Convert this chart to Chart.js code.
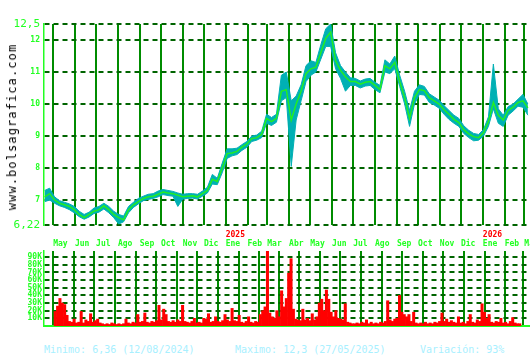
<!DOCTYPE html>
<html>
<head>
<meta charset="utf-8">
<script src="https://cdn.jsdelivr.net/npm/chart.js@4"></script>
<style>
  body { margin: 0; background: #fff; }
  #wrap { position: relative; width: 530px; height: 360px; overflow: hidden; }
  #price { position: absolute; left: 0; top: 0; }
  #vol { position: absolute; left: 0; top: 250px; }
  #site {
    position: absolute; left: 12px; top: 127px;
    transform: translate(-50%, -50%) rotate(-90deg);
    font: 12px "DejaVu Sans Mono", monospace; letter-spacing: 1.1px;
    color: #000; white-space: nowrap;
  }
  .stat {
    position: absolute; top: 344px;
    font: 10px "DejaVu Sans Mono", monospace; color: #a8f0ff; white-space: nowrap;
  }
</style>
</head>
<body>
<div id="wrap">
  <canvas id="price" width="530" height="250"></canvas>
  <canvas id="vol" width="530" height="78"></canvas>
  <div id="site">www.bolsagrafica.com</div>
  <div class="stat" style="left:44px">Minimo: 6,36 (12/08/2024)</div>
  <div class="stat" style="left:235px">Maximo: 12,3 (27/05/2025)</div>
  <div class="stat" style="left:420px">Variación: 93%</div>
</div>
<script>
// weekly quotes, first week starting here
const firstWeek = '2024-04-19';
const close = [7.1,7.2,7.0,6.9,6.85,6.8,6.7,6.55,6.45,6.55,6.65,6.7,6.82,6.7,6.55,6.45,6.38,6.7,6.85,6.95,
  7.05,7.1,7.12,7.18,7.25,7.22,7.2,7.15,7.1,7.12,7.13,7.1,7.2,7.3,7.65,7.58,8.0,8.45,8.47,8.52,
  8.65,8.75,8.92,8.95,9.05,9.55,9.45,9.55,10.4,10.45,9.5,10.0,10.4,10.95,11.1,11.15,11.6,12.05,12.25,11.35,
  11.05,10.85,10.7,10.7,10.62,10.68,10.7,10.58,10.45,11.2,11.1,11.3,10.7,10.2,9.55,10.2,10.45,10.42,10.2,10.1,
  10.0,9.82,9.68,9.52,9.42,9.2,9.07,8.98,8.95,9.1,9.45,10.05,9.65,9.5,9.8,9.9,10.05,10.1,9.88];
const high = [7.3,7.37,7.1,6.98,6.93,6.88,6.8,6.65,6.55,6.62,6.75,6.8,6.9,6.8,6.65,6.55,6.5,6.8,6.93,7.05,
  7.12,7.18,7.2,7.28,7.33,7.3,7.27,7.22,7.18,7.2,7.2,7.18,7.28,7.4,7.8,7.68,8.15,8.6,8.6,8.62,
  8.73,8.83,9.0,9.03,9.15,9.68,9.58,9.68,10.9,11.0,10.1,10.25,10.6,11.2,11.35,11.3,11.85,12.35,12.5,11.6,
  11.2,11.0,10.82,10.8,10.72,10.78,10.8,10.68,10.58,11.38,11.25,11.5,10.9,10.4,9.8,10.4,10.6,10.55,10.32,10.22,
  10.12,9.95,9.8,9.65,9.55,9.32,9.18,9.08,9.05,9.2,9.6,11.25,9.85,9.65,9.92,10.0,10.15,10.3,10.0];
const low = [6.95,7.0,6.9,6.82,6.77,6.7,6.6,6.48,6.4,6.47,6.58,6.62,6.72,6.6,6.45,6.25,6.32,6.6,6.77,6.88,
  6.98,7.02,7.05,7.1,7.17,7.14,7.12,6.8,7.03,7.05,7.06,7.03,7.12,7.22,7.5,7.48,7.85,8.3,8.38,8.42,
  8.55,8.65,8.83,8.87,8.95,9.4,9.33,9.43,10.1,10.2,8.05,9.5,10.1,10.7,10.9,11.0,11.4,11.8,11.8,11.1,
  10.8,10.4,10.58,10.58,10.5,10.56,10.58,10.45,10.35,11.0,10.95,11.1,10.55,10.0,9.3,10.0,10.3,10.28,10.05,9.97,
  9.87,9.68,9.52,9.4,9.3,9.08,8.95,8.85,8.87,9.0,9.3,9.85,9.4,9.3,9.65,9.78,9.93,9.9,9.65];
// volume in thousands, two values per week
const volumeK = [19,26,36,30,28,14,6,5,9,4,5,19,4,8,6,16,5,7,9,4,
  3,2,3,2,4,3,2,3,2,3,9,4,3,5,4,15,5,6,17,5,
  4,6,5,7,27,8,22,15,6,5,7,5,8,6,27,6,5,4,6,10,
  4,5,4,10,9,16,5,6,12,6,5,7,15,8,6,23,7,6,14,5,
  4,6,12,5,4,6,5,15,20,25,99,17,12,10,20,12,46,25,36,69,
  88,22,9,8,7,22,8,10,7,16,8,12,30,35,20,47,35,18,12,20,
  10,9,8,29,5,4,3,3,4,3,5,4,8,3,5,3,4,3,5,4,
  6,33,8,6,9,10,40,18,15,12,15,6,18,4,3,4,3,5,3,4,
  3,5,4,6,17,6,9,5,7,5,4,12,4,5,3,6,15,5,4,8,
  6,29,18,10,15,5,4,6,5,10,4,5,3,6,11,4,3,3];

const monthStarts = ['2024-05-01','2024-06-01','2024-07-01','2024-08-01','2024-09-01','2024-10-01','2024-11-01','2024-12-01',
  '2025-01-01','2025-02-01','2025-03-01','2025-04-01','2025-05-01','2025-06-01','2025-07-01','2025-08-01','2025-09-01',
  '2025-10-01','2025-11-01','2025-12-01','2026-01-01','2026-02-01','2026-03-01'];
const monthLabels = ['May','Jun','Jul','Ago','Sep','Oct','Nov','Dic','Ene','Feb','Mar','Abr','May','Jun','Jul','Ago','Sep',
  'Oct','Nov','Dic','Ene','Feb','Mar'];
const yearMarks = [['2025-01-01','2025'],['2026-01-01','2026']];
const priceTicks = [6.22,7,8,9,10,11,12,12.5];
const volTicks = [10,20,30,40,50,60,70,80,90];

const DAY = 86400000;
const day = s => Date.parse(s) / DAY;
const xMin = day('2024-04-18'), xMax = day('2026-03-09');
const w0 = day(firstWeek);
const monthDays = monthStarts.map(day);

const mono = 'DejaVu Sans Mono';
const bright = '#22ff22';

// keep tick labels from pushing the plot area around
const noPad = s => { s.paddingLeft = 0; s.paddingRight = 0; s.paddingTop = 0; s.paddingBottom = 0; };

const xScale = (h, extra) => Object.assign({
  type: 'linear', min: xMin, max: xMax,
  afterBuildTicks: s => { s.ticks = monthDays.map(v => ({value: v})); },
  afterFit: s => { s.height = h; noPad(s); },
  grid: { color: '#008c00', lineWidth: 2, drawTicks: false },
  border: { display: false }
}, extra);

const yScale = (min, max, ticks, extra) => Object.assign({
  min: min, max: max,
  afterFit: s => { s.width = 44; noPad(s); },
  afterBuildTicks: s => { s.ticks = ticks.map(v => ({value: v})); },
  grid: { color: '#006400', lineWidth: 2, drawTicks: false },
  border: { color: bright, width: 1.5, dash: [5, 4] }
}, extra);

new Chart(document.getElementById('price'), {
  type: 'line',
  data: {
    datasets: [
      { data: close.map((v, i) => ({x: w0 + 7 * i, y: v})), borderColor: '#22ee22', borderWidth: 1.5, pointRadius: 0 },
      { data: low.map((v, i) => ({x: w0 + 7 * i, y: v})), borderColor: '#00b0b4', borderWidth: 1, pointRadius: 0 },
      { data: high.map((v, i) => ({x: w0 + 7 * i, y: v})), borderColor: '#00b0b4', borderWidth: 1, pointRadius: 0,
        fill: '-1', backgroundColor: '#00b0b4' }
    ]
  },
  options: {
    responsive: false, animation: false,
    layout: { padding: { top: 24, left: 0, right: 0, bottom: 0 } },
    plugins: { legend: { display: false }, tooltip: { enabled: false } },
    scales: {
      x: xScale(25, {
        ticks: { autoSkip: false, maxRotation: 0, align: 'start', padding: 14, color: bright,
          font: { family: mono, size: 8, weight: 'bold' },
          callback: (v, i) => monthLabels[i] }
      }),
      y: yScale(6.22, 12.5, priceTicks, {
        ticks: { color: bright, padding: 4, autoSkip: false,
          font: c => (c.tick && (c.tick.value === 12.5 || c.tick.value === 6.22))
            ? { family: mono, size: 11 } : { family: mono, size: 8, weight: 'bold' },
          callback: v => String(v).replace('.', ',') }
      })
    }
  },
  plugins: [{
    id: 'years',
    afterDraw(chart) {
      const ctx = chart.ctx, sx = chart.scales.x;
      ctx.save();
      ctx.fillStyle = '#ff0000';
      ctx.font = 'bold 8px "' + mono + '"';
      ctx.textBaseline = 'middle';
      yearMarks.forEach(([d, t]) => ctx.fillText(t, sx.getPixelForValue(day(d)), 235));
      ctx.restore();
    }
  }]
});

new Chart(document.getElementById('vol'), {
  type: 'bar',
  data: {
    datasets: [{
      data: volumeK.map((v, i) => ({x: w0 + 3.5 * i, y: v})),
      backgroundColor: '#ff0000', barPercentage: 1, categoryPercentage: 1
    }]
  },
  options: {
    responsive: false, animation: false,
    layout: { padding: { top: 1, left: 0, right: 0, bottom: 0 } },
    plugins: { legend: { display: false }, tooltip: { enabled: false } },
    scales: {
      x: xScale(2, {
        ticks: { display: false },
        border: { display: true, color: bright, width: 2 }
      }),
      y: yScale(0, 98, volTicks, {
        ticks: { color: bright, padding: 2, autoSkip: false, font: { family: mono, size: 8, weight: 'bold' },
          callback: v => v + 'K' }
      })
    }
  }
});
</script>
</body>
</html>
